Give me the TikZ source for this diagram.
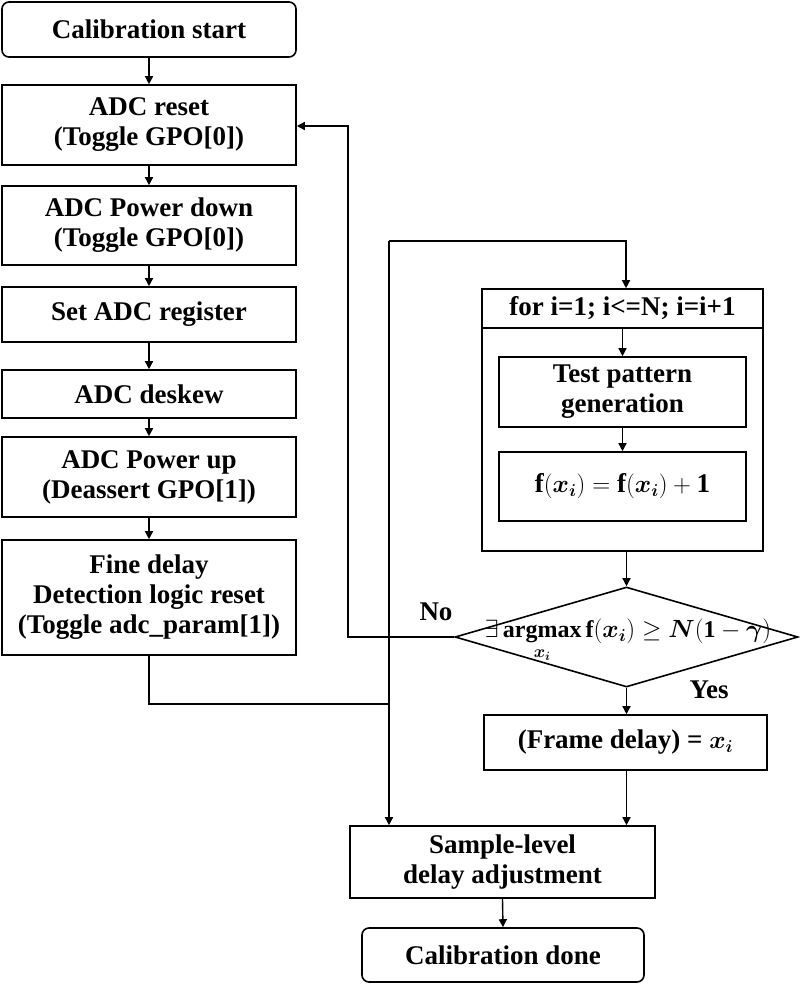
\documentclass[tikz,border=0pt]{standalone}
\usepackage{fontspec}
\usepackage{amsmath,bm}
\setmainfont{Liberation Serif}
\usetikzlibrary{shapes.geometric,arrows.meta}
\begin{document}
\begin{tikzpicture}[x=1pt,y=-1pt,
  every node/.style={font=\fontsize{27}{30}\selectfont\bfseries, align=center, inner sep=0pt},
  box/.style={draw, line width=1.6pt, minimum width=#1},
  rbox/.style={draw, line width=1.6pt, rounded corners=7pt, minimum width=#1},
  conn/.style={line width=1.4pt},
  arr/.style={conn, -{Triangle[length=8pt,width=8pt]}}]
\useasboundingbox (0,0) rectangle (800,986);
\node[rbox=294pt, minimum height=55pt] (start) at (149,29.5) {Calibration start};
\node[box=294pt, minimum height=80pt] (reset) at (149,125) {ADC reset\\(Toggle GPO[0])};
\node[box=294pt, minimum height=79pt] (pd) at (149,225.5) {ADC Power down\\(Toggle GPO[0])};
\node[box=294pt, minimum height=55pt] (reg) at (149,314.5) {Set ADC register};
\node[box=294pt, minimum height=48pt] (desk) at (149,394) {ADC deskew};
\node[box=294pt, minimum height=80pt] (pu) at (149,477) {ADC Power up\\(Deassert GPO[1])};
\node[box=294pt, minimum height=115pt] (fine) at (149,597.5) {Fine delay\\Detection logic reset\\(Toggle adc\_param[1])};
\draw[line width=1.6pt] (482,289) rectangle (763,551);
\node[box=281pt, minimum height=39pt] (loop) at (622.5,308.5) {for i=1; i<=N; i=i+1};
\node[box=247pt, minimum height=70pt] (test) at (622.5,392) {Test pattern\\generation};
\node[box=247pt, minimum height=69pt] (f) at (622.5,486.5) {$\mathbf{f}(\bm{x_i})=\mathbf{f}(\bm{x_i})+\mathbf{1}$};
\node[diamond, draw, line width=1.6pt, aspect=3.43, minimum width=343pt, minimum height=100pt] (dia) at (626.5,637) {};
\node[font=\fontsize{24}{27}\selectfont\bfseries] at (628,641) {$\exists\,\underset{\bm{x_i}}{\mathbf{argmax}}\,\mathbf{f}(\bm{x_i})\geq \bm{N}(\mathbf{1}-\bm{\gamma})$};
\node[box=283pt, minimum height=55pt] (frame) at (625.5,742.5) {(Frame delay) = $\bm{x_i}$};
\node[box=305pt, minimum height=72pt] (sample) at (502.5,862) {Sample-level\\delay adjustment};
\node[rbox=282pt, minimum height=54pt] (done) at (503,955) {Calibration done};
\node at (436,612) {No};
\node at (709,690) {Yes};
\coordinate (c1) at (348,637);
\coordinate (c2) at (348,126);
\coordinate (c3) at (389,241);
\coordinate (c4) at (626,241);
\coordinate (c5) at (149,704);
\coordinate (c6) at (389,704);
\draw[arr] (start.south) -- (reset.north);
\draw[arr] (reset.south) -- (pd.north);
\draw[arr] (pd.south) -- (reg.north);
\draw[arr] (reg.south) -- (desk.north);
\draw[arr] (desk.south) -- (pu.north);
\draw[arr] (pu.south) -- (fine.north);
\draw[arr] (dia.west) -- (c1) -- (c2) -- (reset.east |- c2);
\draw[arr] (c3) -- (c3 |- sample.north);
\draw[arr] (c3) -- (c4) -- (c4 |- loop.north);
\draw[conn] (fine.south -| c5) -- (c5) -- (c6);
\draw[arr] (loop.south -| test.north) -- (test.north);
\draw[arr] (test.south) -- (f.north);
\draw[arr] (626.5,551) -- (dia.north);
\draw[arr] (dia.south) -- (dia.south |- frame.north);
\draw[arr] (frame.south -| dia.south) -- (dia.south |- sample.north);
\draw[arr] (sample.south) -- (done.north);
\end{tikzpicture}
\end{document}
